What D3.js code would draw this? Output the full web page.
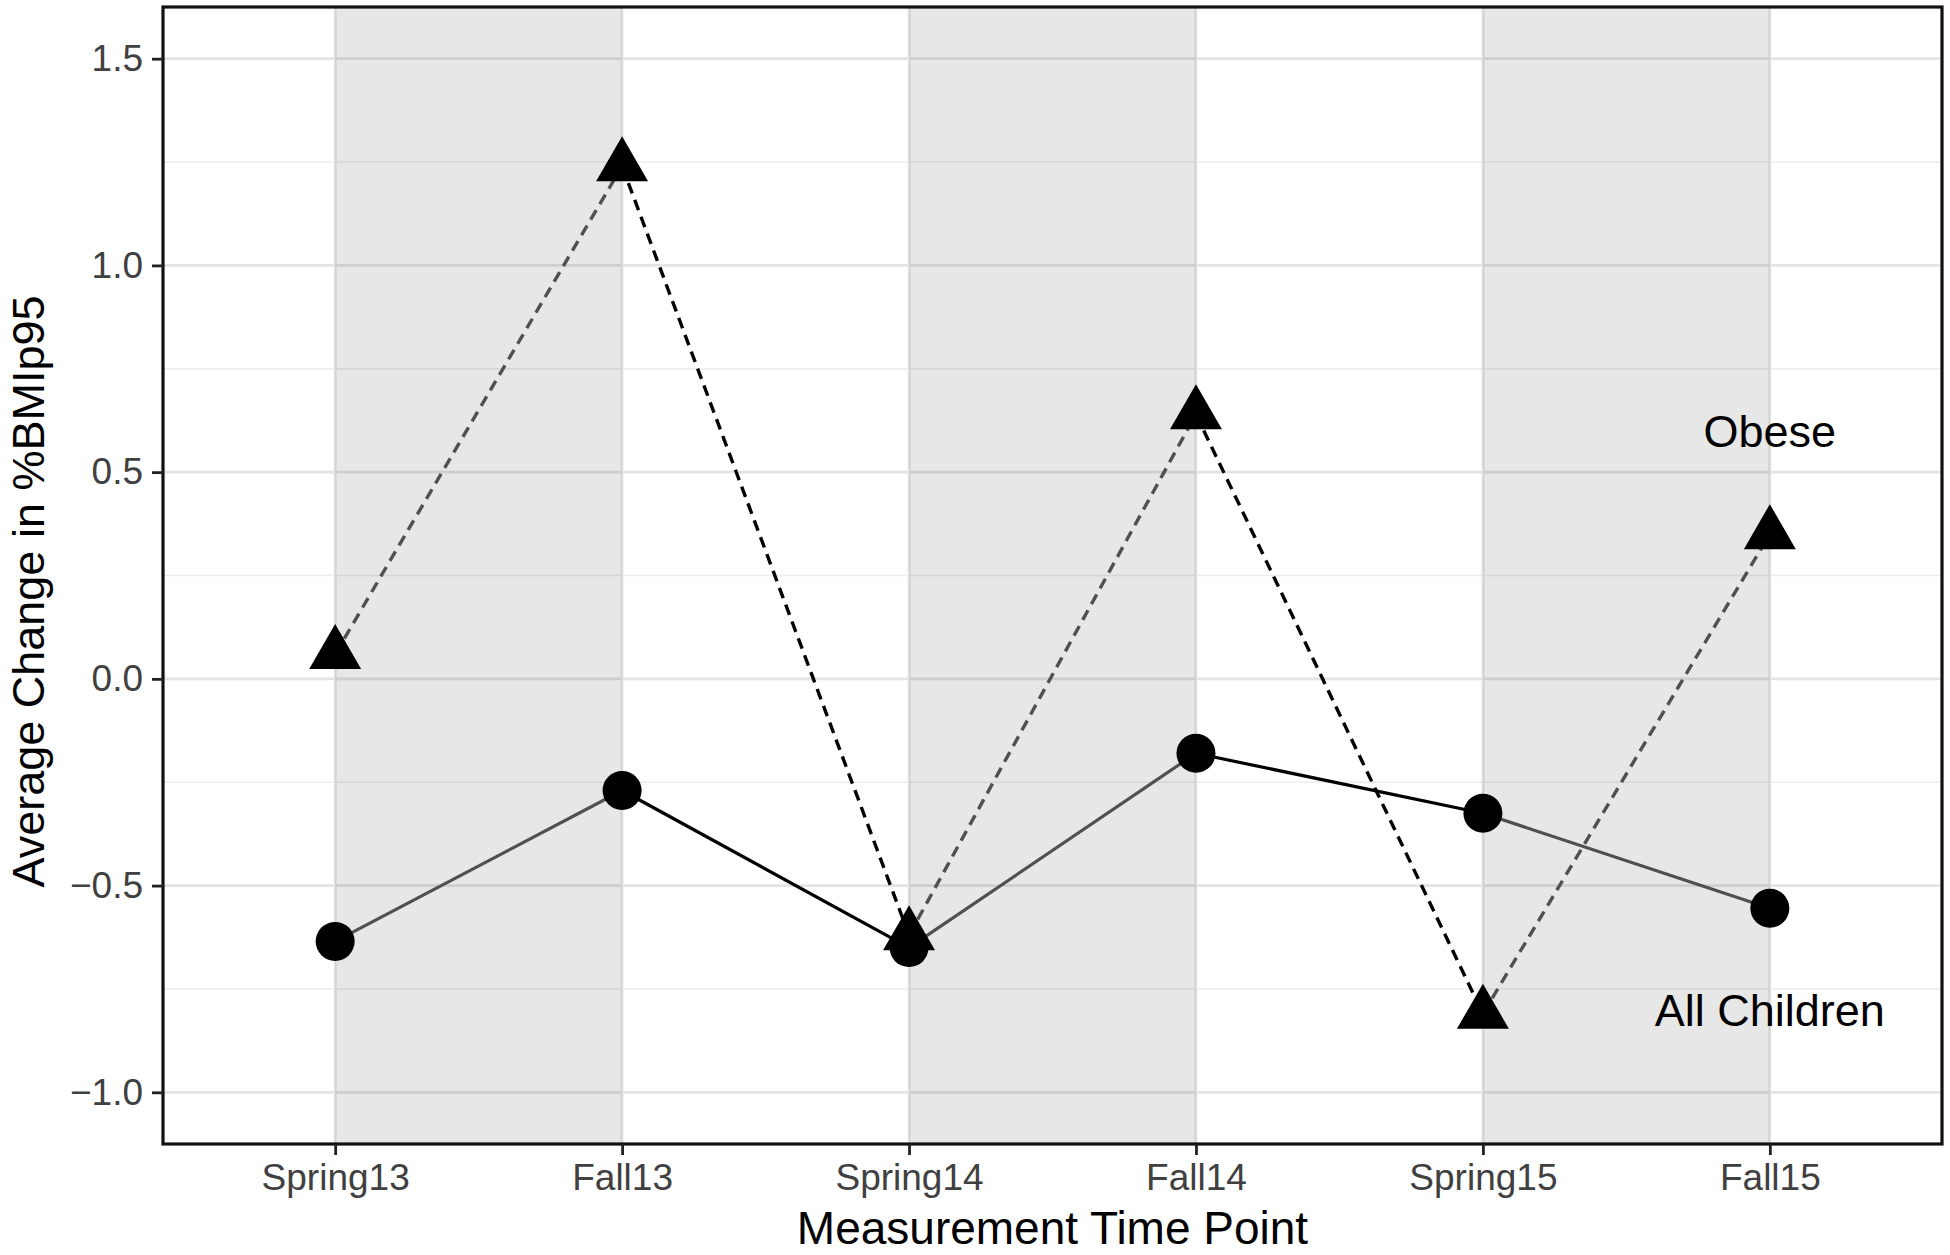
<!DOCTYPE html>
<html>
<head>
<meta charset="utf-8">
<script src="https://cdn.jsdelivr.net/npm/d3@7"></script>
<style>
    body{margin:0;background:#fff;}
    text{font-family:'Liberation Sans',Arial,sans-serif;}
</style>
</head>
<body>
<div class="canvas"></div>
<script>
var W = 1950, H = 1255;
var margin = {t:7,r:8,b:111,l:163};
var width = W - margin.l - margin.r,
    height = H - margin.t - margin.b;

//data
var timePoints = ['Spring13','Fall13','Spring14','Fall14','Spring15','Fall15'];
var allChildren = [-0.635,-0.27,-0.65,-0.18,-0.325,-0.555];
var obese = [0.06,1.24,-0.62,0.64,-0.81,0.35];
var yMajor = [-1,-0.5,0,0.5,1,1.5];
var yMinor = [-0.75,-0.25,0.25,0.75,1.25];
var summers = [['Spring13','Fall13'],['Spring14','Fall14'],['Spring15','Fall15']];
var labels = [{text:'Obese',t:'Fall15',v:0.6},{text:'All Children',t:'Fall15',v:-0.8}];

var svg = d3.select('.canvas')
    .append('svg')
    .attr('width',W)
    .attr('height',H);

var plot = svg.append('g')
    .attr('transform','translate('+margin.l+','+margin.t+')');

var x = d3.scalePoint().domain(timePoints).range([0,width]).padding(0.6);
var y = d3.scaleLinear().domain([-1.125,1.625]).range([height,0]);

//grid
plot.selectAll('.minor').data(yMinor).enter().append('line')
    .attr('x1',0).attr('x2',width)
    .attr('y1',function(d){return y(d);}).attr('y2',function(d){return y(d);})
    .style('stroke','#ececec').style('stroke-width',1.4);
plot.selectAll('.major').data(yMajor).enter().append('line')
    .attr('x1',0).attr('x2',width)
    .attr('y1',function(d){return y(d);}).attr('y2',function(d){return y(d);})
    .style('stroke','#e4e4e4').style('stroke-width',2.8);
plot.selectAll('.vgrid').data(timePoints).enter().append('line')
    .attr('x1',function(d){return x(d);}).attr('x2',function(d){return x(d);})
    .attr('y1',0).attr('y2',height)
    .style('stroke','#e4e4e4').style('stroke-width',2.8);

//shaded spring->fall bands
plot.selectAll('.band').data(summers).enter().append('rect')
    .attr('x',function(d){return x(d[0]);})
    .attr('width',function(d){return x(d[1]) - x(d[0]);})
    .attr('y',0).attr('height',height)
    .style('fill','#000').style('fill-opacity',0.095);

//line segments, gray inside the bands, black between
function segments(vals){
    var s = [];
    for(var i = 0; i < vals.length-1; i++){
        s.push({x1:x(timePoints[i]),y1:y(vals[i]),x2:x(timePoints[i+1]),y2:y(vals[i+1]),gray:i%2==0});
    }
    return s;
}

plot.selectAll('.segA').data(segments(allChildren)).enter().append('line')
    .attr('x1',function(d){return d.x1;}).attr('y1',function(d){return d.y1;})
    .attr('x2',function(d){return d.x2;}).attr('y2',function(d){return d.y2;})
    .style('stroke',function(d){return d.gray ? '#505050' : '#000';})
    .style('stroke-width',3.2);

plot.selectAll('.segO').data(segments(obese)).enter().append('line')
    .attr('x1',function(d){return d.x1;}).attr('y1',function(d){return d.y1;})
    .attr('x2',function(d){return d.x2;}).attr('y2',function(d){return d.y2;})
    .style('stroke',function(d){return d.gray ? '#505050' : '#000';})
    .style('stroke-width',3.4)
    .style('stroke-dasharray','11,7');

//points
plot.selectAll('.tri').data(obese).enter().append('path')
    .attr('d',d3.symbol().type(d3.symbolTriangle).size(1169))
    .attr('transform',function(d,i){return 'translate('+x(timePoints[i])+','+y(d)+')';})
    .style('fill','#000');

plot.selectAll('.dot').data(allChildren).enter().append('circle')
    .attr('cx',function(d,i){return x(timePoints[i]);})
    .attr('cy',function(d){return y(d);})
    .attr('r',19.5)
    .style('fill','#000');

//annotations
plot.selectAll('.lab').data(labels).enter().append('text')
    .attr('x',function(d){return x(d.t);})
    .attr('y',function(d){return y(d.v);})
    .attr('dy','0.36em')
    .attr('text-anchor','middle')
    .style('font-size','45px')
    .style('fill','#000')
    .text(function(d){return d.text;});

//panel border
plot.append('rect')
    .attr('x',0).attr('y',0).attr('width',width).attr('height',height)
    .style('fill','none').style('stroke','#111').style('stroke-width',3.2);

//axes
var xAxis = plot.append('g')
    .attr('transform','translate(0,'+height+')')
    .call(d3.axisBottom(x).tickSize(11).tickPadding(9));
var yAxis = plot.append('g')
    .call(d3.axisLeft(y).tickValues(yMajor).tickFormat(d3.format('.1f')).tickSize(11).tickPadding(9));

[xAxis,yAxis].forEach(function(a){
    a.select('.domain').remove();
    a.selectAll('.tick line').style('stroke','#222').style('stroke-width',2.8);
    a.selectAll('.tick text')
        .style('font-family','Liberation Sans, Arial, sans-serif')
        .style('font-size','37px')
        .style('fill','#404040');
});

//titles
svg.append('text')
    .attr('x',margin.l + width/2)
    .attr('y',1244)
    .attr('text-anchor','middle')
    .style('font-size','46px')
    .text('Measurement Time Point');

svg.append('text')
    .attr('transform','translate(44,'+(margin.t + height/2 + 16)+') rotate(-90)')
    .attr('text-anchor','middle')
    .style('font-size','45px')
    .text('Average Change in %BMIp95');
</script>
</body>
</html>
